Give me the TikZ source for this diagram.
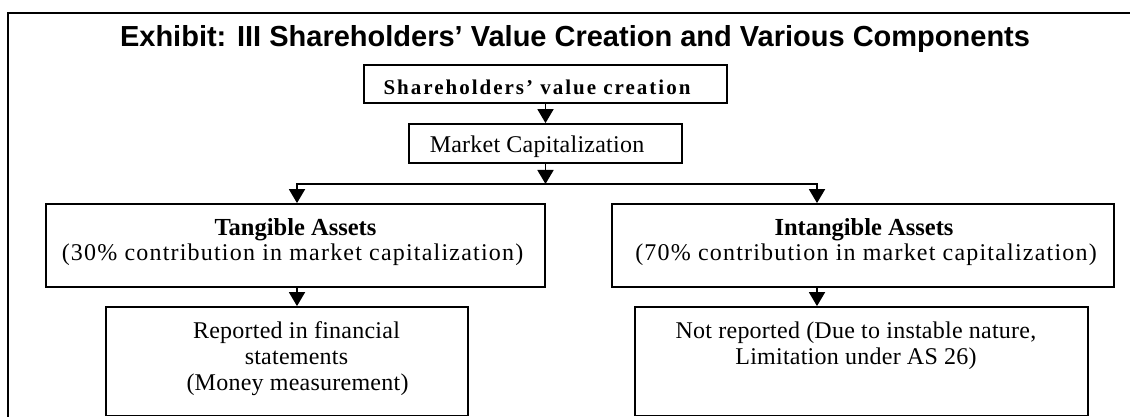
\documentclass[tikz,border=0pt]{standalone}
\usepackage{fontspec}
\usetikzlibrary{arrows.meta}
\setmainfont{Liberation Serif}
\newfontfamily\titlefont{Liberation Sans}
\newfontfamily\bodyfont{Liberation Serif}[LetterSpace=1]
\newfontfamily\wideFont{Liberation Serif}[LetterSpace=5]
\newfontfamily\headfont{Liberation Serif}
\newfontfamily\topfont{Liberation Serif}[LetterSpace=9.5]
\begin{document}
\begin{tikzpicture}[x=1pt,y=-1pt,
  box/.style={draw=black, line width=1.8pt, rectangle, inner sep=0pt},
  conn/.style={line width=1.8pt, -{Triangle[width=16pt,length=14pt]}},
  body/.style={anchor=base, inner sep=0pt, font=\bodyfont\fontsize{24}{28}\selectfont},
  widebody/.style={anchor=base, inner sep=0pt, font=\wideFont\fontsize{24}{28}\selectfont},
  head/.style={anchor=base, inner sep=0pt, font=\headfont\bfseries\fontsize{24.5}{28}\selectfont},
  tophead/.style={anchor=base, inner sep=0pt, font=\topfont\bfseries\fontsize{21}{25}\selectfont},
  titletext/.style={anchor=base, inner sep=0pt, font=\titlefont\bfseries\fontsize{29}{34}\selectfont},
]
\clip (0,0) rectangle (1130,417);
% outer frame, running past the right and bottom edges
\draw[line width=2.2pt] (8,440) -- (8,13) -- (1150,13);

\node[titletext] (title) at (575,47) {Exhibit: III Shareholders’ Value Creation and Various Components};

% boxes
\node[box, minimum width=363pt, minimum height=38pt] (sv) at (545.5,84) {};
\node[box, minimum width=273pt, minimum height=39pt] (mc) at (545.5,143.5) {};
\node[box, minimum width=499pt, minimum height=83pt] (ta) at (295.5,245.5) {};
\node[box, minimum width=502pt, minimum height=83pt] (ia) at (863,245.5) {};
\node[box, minimum width=362pt, minimum height=108.5pt] (rf) at (287,361.25) {};
\node[box, minimum width=453pt, minimum height=108.5pt] (nr) at (861.5,361.25) {};

% texts
\node[tophead] (svt) at (537,95) {Shareholders’ value creation};
\node[body] (mct) at (537,153) {Market Capitalization};
\node[head] (tat1) at (295.5,235.5) {Tangible Assets};
\node[widebody] (tat2) at (292.5,260.5) {(30\% contribution in market capitalization)};
\node[head] (iat1) at (864,235.5) {Intangible Assets};
\node[widebody] (iat2) at (866,260.5) {(70\% contribution in market capitalization)};
\node[body] (rft1) at (296.5,338) {Reported in financial};
\node[body] (rft2) at (296.5,364) {statements};
\node[body] (rft3) at (297.5,390) {(Money measurement)};
\node[body] (nrt1) at (856,338) {Not reported (Due to instable nature,};
\node[body] (nrt2) at (856,364) {Limitation under AS 26)};

% connectors
\coordinate (split) at (545.5,184);
\coordinate (bl) at (297,184);
\coordinate (br) at (817,184);
\draw[conn] (sv.south) -- (mc.north);
\draw[conn] (mc.south) -- (split);
\draw[conn] (br) -- (bl) -- (bl |- ta.north);
\draw[conn] (bl) -- (br) -- (br |- ia.north);
\draw[conn] (ta.south -| bl) -- (rf.north -| bl);
\draw[conn] (ia.south -| br) -- (nr.north -| br);
\end{tikzpicture}
\end{document}
